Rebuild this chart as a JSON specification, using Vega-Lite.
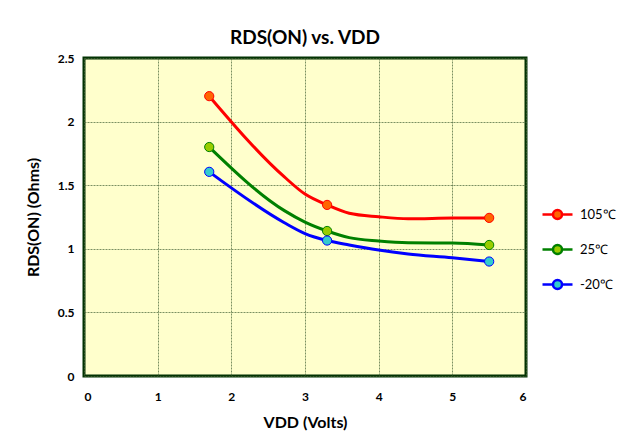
{
  "$schema": "https://vega.github.io/schema/vega-lite/v6.json",
  "width": 442,
  "height": 318,
  "autosize": "none",
  "padding": {"left": 84, "top": 58, "right": 93, "bottom": 63},
  "background": "white",
  "title": {"text": "RDS(ON) vs. VDD", "fontSize": 19, "font": "Lato", "fontWeight": "bold", "color": "black", "offset": 4, "anchor": "middle"},
  "config": {
    "font": "Lato",
    "view": {"fill": "#FFFFCC", "stroke": "#033303", "strokeWidth": 3}
  },
  "data": {
    "values": [
      {"series": "105℃", "v": 1.7, "r": 2.2, "m": true},
      {"series": "105℃", "v": 2.72, "r": 1.565, "m": false},
      {"series": "105℃", "v": 3.0, "r": 1.43, "m": false},
      {"series": "105℃", "v": 3.3, "r": 1.345, "m": true},
      {"series": "105℃", "v": 3.6, "r": 1.28, "m": false},
      {"series": "105℃", "v": 4.0, "r": 1.252, "m": false},
      {"series": "105℃", "v": 4.4, "r": 1.236, "m": false},
      {"series": "105℃", "v": 5.0, "r": 1.242, "m": false},
      {"series": "105℃", "v": 5.5, "r": 1.243, "m": true},
      {"series": "25℃", "v": 1.7, "r": 1.8, "m": true},
      {"series": "25℃", "v": 2.72, "r": 1.3, "m": false},
      {"series": "25℃", "v": 3.0, "r": 1.21, "m": false},
      {"series": "25℃", "v": 3.3, "r": 1.14, "m": true},
      {"series": "25℃", "v": 3.6, "r": 1.088, "m": false},
      {"series": "25℃", "v": 4.0, "r": 1.062, "m": false},
      {"series": "25℃", "v": 4.4, "r": 1.048, "m": false},
      {"series": "25℃", "v": 5.0, "r": 1.045, "m": false},
      {"series": "25℃", "v": 5.5, "r": 1.03, "m": true},
      {"series": "-20℃", "v": 1.7, "r": 1.605, "m": true},
      {"series": "-20℃", "v": 2.72, "r": 1.205, "m": false},
      {"series": "-20℃", "v": 3.0, "r": 1.12, "m": false},
      {"series": "-20℃", "v": 3.3, "r": 1.065, "m": true},
      {"series": "-20℃", "v": 3.6, "r": 1.03, "m": false},
      {"series": "-20℃", "v": 4.0, "r": 0.99, "m": false},
      {"series": "-20℃", "v": 4.4, "r": 0.96, "m": false},
      {"series": "-20℃", "v": 5.0, "r": 0.93, "m": false},
      {"series": "-20℃", "v": 5.5, "r": 0.9, "m": true}
    ]
  },
  "encoding": {
    "x": {
      "field": "v", "type": "quantitative",
      "scale": {"domain": [0, 6], "nice": false, "zero": false},
      "axis": {
        "values": [0, 1, 2, 3, 4, 5, 6],
        "title": "VDD (Volts)",
        "titleFontSize": 16, "titleFontWeight": "bold", "titleColor": "black", "titlePadding": 12,
        "labelFontSize": 12, "labelFontWeight": "bold", "labelColor": "black", "labelPadding": 15,
        "domain": false, "ticks": false,
        "grid": true, "gridColor": "#4f6b3f", "gridOpacity": 0.75, "gridWidth": 1, "gridDash": [2, 1]
      }
    },
    "y": {
      "field": "r", "type": "quantitative",
      "scale": {"domain": [0, 2.5], "nice": false},
      "axis": {
        "values": [0, 0.5, 1, 1.5, 2, 2.5],
        "format": "~g",
        "title": "RDS(ON) (Ohms)",
        "titleFontSize": 16, "titleFontWeight": "bold", "titleColor": "black", "titlePadding": 16,
        "labelFontSize": 12, "labelFontWeight": "bold", "labelColor": "black", "labelPadding": 10,
        "domain": false, "ticks": false,
        "grid": true, "gridColor": "#4f6b3f", "gridOpacity": 0.75, "gridWidth": 1, "gridDash": [2, 1]
      }
    }
  },
  "layer": [
    {
      "mark": {"type": "line", "interpolate": "monotone", "strokeWidth": 3},
      "encoding": {
        "stroke": {
          "field": "series", "type": "nominal",
          "scale": {"domain": ["105℃", "25℃", "-20℃"], "range": ["#FF0000", "#008000", "#0000FF"]},
          "legend": {
            "orient": "none", "legendX": 457, "legendY": 140,
            "title": null,
            "symbolType": "M-1,0L-0.3,0M0.3,0L1,0M0.3,0A0.3,0.3 0 1,1 -0.3,0A0.3,0.3 0 1,1 0.3,0Z",
            "symbolSize": 900, "symbolStrokeWidth": 2.5, "symbolOpacity": 1,
            "labelFontSize": 13, "labelColor": "black", "labelOffset": 6,
            "rowPadding": 9
          }
        }
      }
    },
    {
      "transform": [{"filter": "datum.m"}],
      "mark": {"type": "point", "filled": true, "size": 85, "strokeWidth": 1, "opacity": 1},
      "encoding": {
        "fill": {
          "field": "series", "type": "nominal",
          "scale": {"domain": ["105℃", "25℃", "-20℃"], "range": ["#FF6600", "#99CC00", "#33CCCC"]},
          "legend": {
            "orient": "none", "legendX": 457, "legendY": 140,
            "title": null,
            "symbolType": "M-1,0L-0.3,0M0.3,0L1,0M0.3,0A0.3,0.3 0 1,1 -0.3,0A0.3,0.3 0 1,1 0.3,0Z",
            "symbolSize": 900, "symbolStrokeWidth": 2.5, "symbolOpacity": 1,
            "labelFontSize": 13, "labelColor": "black", "labelOffset": 6,
            "rowPadding": 9
          }
        },
        "stroke": {"field": "series", "type": "nominal"}
      }
    }
  ]
}
